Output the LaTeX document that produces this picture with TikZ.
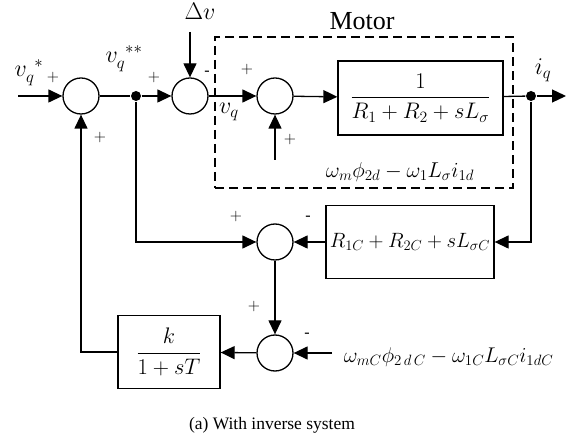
\RequirePackage{fix-cm}
\documentclass[tikz,border=0pt]{standalone}
\usepackage{amsmath}
\usepackage{fontspec}
\setmainfont{Liberation Serif}
\usepackage{tikz}
\usetikzlibrary{arrows.meta,positioning,calc}

\begin{document}
\begin{tikzpicture}[
  x=1pt, y=1pt,
  font=\rmfamily\fontsize{20.7}{24}\selectfont,
  sumnode/.style={draw, circle, minimum size=36pt, inner sep=0pt, line width=1.3pt},
  block/.style={draw, line width=1.3pt, inner sep=0pt, align=center},
  frac/.style={block, font=\rmfamily\fontsize{22.5}{27}\selectfont},
  dot/.style={circle, fill, inner sep=0pt, minimum size=10pt},
  sig/.style={font=\rmfamily\fontsize{24}{28}\selectfont},
  sgn/.style={font=\rmfamily\fontsize{16}{18}\selectfont, inner sep=0pt},
  motorbox/.style={draw, line width=2.6pt, dash pattern=on 9pt off 5pt},
  >={Triangle[length=14pt,width=13pt]},
  every path/.style={line width=1.3pt}]

  \useasboundingbox (0,0) rectangle (573,439);

  % forward path
  \coordinate (in) at (18,343);
  \node[sumnode] (s1) at (81,343) {};
  \node[dot] (d1) at (136,343) {};
  \node[sumnode] (s2) at (190,343) {};
  \node[sumnode] (s3) at (275,343) {};
  \node[frac, minimum width=165pt, minimum height=74pt] (g1) at (420.5,341)
    {$\dfrac{1}{R_1+R_2+sL_\sigma}$};
  \node[dot] (d2) at (531,343) {};
  \coordinate (out) at (566,343);
  \coordinate (dv) at (190,407);
  \coordinate (dist) at (275,279);

  \draw[->] (in) -- (s1);
  \draw (s1) -- (d1);
  \draw[->] (d1) -- (s2);
  \draw[->] (dv) -- (s2);
  \draw[->] (s2) -- (s3);
  \draw[->] (s3) -- (g1);
  \draw (g1) -- (d2);
  \draw[->] (d2) -- (out);
  \draw[->] (dist) -- (s3);

  % motor frame
  \node[motorbox, minimum width=298pt, minimum height=151pt] (motor) at (364,326.5) {};
  \node[font=\rmfamily\fontsize{26}{30}\selectfont] (motorlab) at (362,418) {Motor};
  \node[font=\rmfamily\fontsize{21.5}{26}\selectfont] (dist1) at (400,267)
    {$\omega_m\phi_{2d}-\omega_1L_\sigma i_{1d}$};

  % inverse model
  \node[sumnode] (s4) at (275,197) {};
  \node[block, minimum width=168pt, minimum height=73pt] (g2) at (410,197)
    {$R_{1C}+R_{2C}+sL_{\sigma C}$};
  \node[sumnode] (s5) at (275,86) {};
  \node[frac, minimum width=102pt, minimum height=73pt] (g3) at (169,87)
    {$\dfrac{k}{1+sT}$};
  \coordinate (dist2) at (332,86);
  \node[anchor=west, font=\rmfamily\fontsize{21.3}{25}\selectfont] (dist2lab) at (340,82)
    {$\omega_{mC}\phi_{2\,d\,C}-\omega_{1C}L_{\sigma C}i_{1dC}$};

  \draw[->] (d2) |- (g2.east);
  \draw[->] (g2) -- (s4);
  \draw[->] (d1) |- (s4);
  \draw[->] (s4) -- (s5);
  \draw[->] (dist2) -- (s5);
  \draw[->] (s5) -- (g3);
  \draw[->] (g3.west) -| (s1);

  % labels
  \node[sig] (vqs) at (29,366) {$v_q^{\;\,*}$};
  \node[sig] (vqss) at (124,380) {$v_q^{\;\,**}$};
  \node[sig] (vq) at (229,327) {$v_q$};
  \node[sig] (iq) at (543,369) {$i_q$};
  \node[sig] (dvlab) at (200,428) {$\Delta v$};

  \node[sgn] (p1) at (53,361) {$+$};
  \node[sgn] (p2) at (100,301) {$+$};
  \node[sgn] (p3) at (154,361) {$+$};
  \node[sgn] (m1) at (207,366) {-};
  \node[sgn] (p4) at (247,369) {$+$};
  \node[sgn] (p5) at (290,299) {$+$};
  \node[sgn] (p6) at (236,222) {$+$};
  \node[sgn] (m2) at (308,221) {-};
  \node[sgn] (p7) at (254,132) {$+$};
  \node[sgn] (m3) at (307,104) {-};

  \node[font=\rmfamily\fontsize{17.5}{20}\selectfont] (cap) at (272,14) {(a) With inverse system};
\end{tikzpicture}
\end{document}
